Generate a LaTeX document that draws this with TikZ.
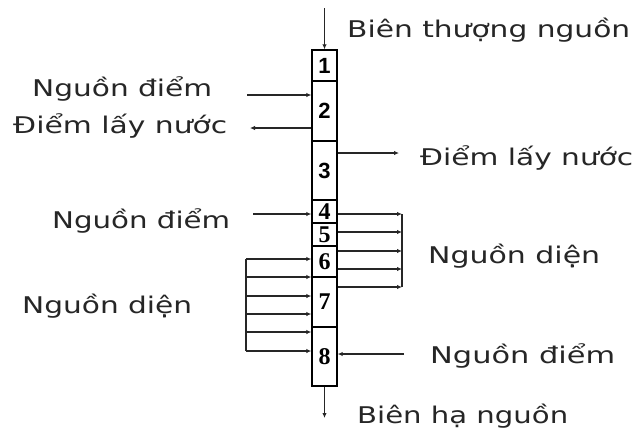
\documentclass[tikz,border=0pt]{standalone}
\usepackage{fontspec}
\setmainfont{DejaVu Sans}
\newfontfamily\numsans{Liberation Sans}
\newfontfamily\numserif{Liberation Serif}
\usetikzlibrary{arrows.meta}
\newsavebox\lblbox
\newcommand\lbl[2]{\sbox\lblbox{#2}\pgfmathsetmacro\lblr{#1/\wd\lblbox}\scalebox{\lblr}[1]{\usebox\lblbox}}
\tikzset{
  cell/.style={draw=black, line width=1.4pt, minimum width=25pt, inner sep=0pt},
  sansnum/.style={font=\numsans\bfseries\fontsize{22}{22}\selectfont},
  serifnum/.style={font=\numserif\bfseries\fontsize{24}{24}\selectfont},
  conn/.style={draw=black!85, line width=1.2pt},
  arr/.style={conn, -{Latex[length=5pt,width=4.5pt]}},
  txt/.style={anchor=base west, inner sep=0pt, font=\fontsize{23}{26}\selectfont, text=black!85},
}
\begin{document}
\begin{tikzpicture}[x=1pt,y=-1pt]
\useasboundingbox (0,0) rectangle (636,432);
\fill[white] (0,0) rectangle (636,432);
% column cells
\node[cell, minimum height=31pt, sansnum] (b1) at (324.5,65.5) {1};
\node[cell, minimum height=60pt, sansnum] (b2) at (324.5,111) {2};
\node[cell, minimum height=59pt, sansnum] (b3) at (324.5,170.5) {3};
\node[cell, minimum height=23pt, serifnum] (b4) at (324.5,211.5) {4};
\node[cell, minimum height=23pt, serifnum] (b5) at (324.5,234.5) {5};
\node[cell, minimum height=31pt, serifnum] (b6) at (324.5,261.5) {6};
\node[cell, minimum height=50pt, serifnum] (b7) at (324.5,302) {7};
\node[cell, minimum height=59pt, serifnum] (b8) at (324.5,356.5) {8};
% labels
\node[txt] (t1) at (347,37) {\lbl{283}{Biên thượng nguồn}};
\node[txt] (t2) at (32,96) {\lbl{180}{Nguồn điểm}};
\node[txt] (t3) at (13,133) {\lbl{214}{Điểm lấy nước}};
\node[txt] (t4) at (420,165) {\lbl{213}{Điểm lấy nước}};
\node[txt] (t5) at (52,228) {\lbl{178}{Nguồn điểm}};
\node[txt] (t6) at (428,263) {\lbl{172}{Nguồn diện}};
\node[txt] (t7) at (22,313) {\lbl{170}{Nguồn diện}};
\node[txt] (t8) at (430,363) {\lbl{185}{Nguồn điểm}};
\node[txt] (t9) at (357,423) {\lbl{211}{Biên hạ nguồn}};
% free ends
\coordinate (top) at (324.5,8);
\coordinate (bot) at (324.5,418);
\coordinate (s2in) at (247,95);
\coordinate (s2out) at (250,128);
\coordinate (s3out) at (399,153);
\coordinate (s4in) at (253,214);
\coordinate (s8in) at (404,354);
\coordinate (rb) at (402,0);
\coordinate (lb) at (246,0);
% boundary arrows
\draw[arr] (top) -- (b1.north);
\draw[arr] (b8.south) -- (bot);
% point sources and withdrawals
\draw[arr] (s2in) -- (s2in -| b2.west);
\draw[arr] (s2out -| b2.west) -- (s2out);
\draw[arr] (s3out -| b3.east) -- (s3out);
\draw[arr] (s4in) -- (s4in -| b4.west);
\draw[arr] (s8in) -- (s8in -| b8.east);
% right distributed source
\foreach \yy/\bb in {214/b4,232/b5,251/b6,269/b6,287/b7}{
  \draw[arr] (\bb.east |- 0,\yy) -- (rb |- 0,\yy);
}
\draw[conn] (rb |- 0,214) -- (rb |- 0,287);
% left distributed source
\foreach \yy/\bb in {259/b6,277/b6,296/b7,314/b7,332/b8,351/b8}{
  \draw[arr] (lb |- 0,\yy) -- (\bb.west |- 0,\yy);
}
\draw[conn] (lb |- 0,259) -- (lb |- 0,351);
\end{tikzpicture}
\end{document}
